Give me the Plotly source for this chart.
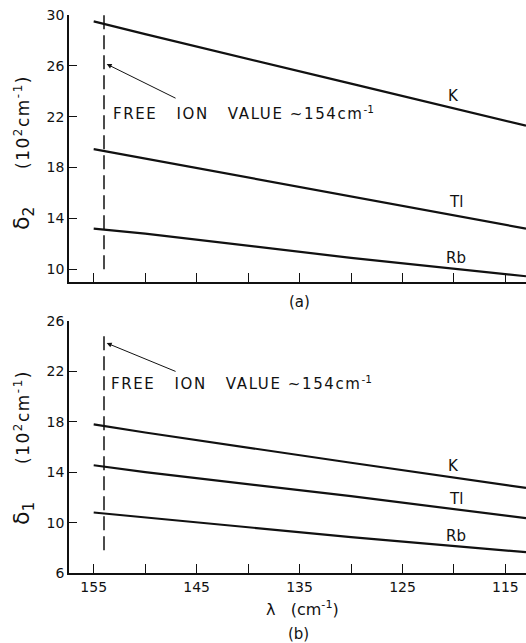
import plotly.graph_objects as go

# wavelength-like x values (lambda, cm^-1)
lam = [155, 150, 130, 113]

# panel (a): delta_2 (10^2 cm^-1)
d2_K = [29.5, 28.5, 24.6, 21.3]
d2_Tl = [19.45, 18.7, 15.7, 13.2]
d2_Rb = [13.2, 12.8, 10.9, 9.45]

# panel (b): delta_1 (10^2 cm^-1)
d1_K = [17.8, 17.15, 14.75, 12.75]
d1_Tl = [14.55, 14.0, 12.1, 10.35]
d1_Rb = [10.8, 10.4, 8.85, 7.65]

free_ion = 154
free_a_y = [10, 30]
free_b_y = [7.8, 25.0]

x_ticks = [155, 150, 145, 140, 135, 130, 125, 120, 115]
x_ticktext_b = ["155", "", "145", "", "135", "", "125", "", "115"]
y_ticks_a = [10, 14, 18, 22, 26, 30]
y_ticks_b = [6, 10, 14, 18, 22, 26]

FONT = "DejaVu Sans, Arial, sans-serif"
INK = "#111111"

fig = go.Figure()

line_style = dict(color=INK, width=2.2)
for ys in (d2_K, d2_Tl, d2_Rb):
    fig.add_trace(go.Scatter(x=lam, y=ys, mode="lines", line=line_style,
                             xaxis="x", yaxis="y", showlegend=False, hoverinfo="skip"))
for ys in (d1_K, d1_Tl, d1_Rb):
    fig.add_trace(go.Scatter(x=lam, y=ys, mode="lines", line=line_style,
                             xaxis="x2", yaxis="y2", showlegend=False, hoverinfo="skip"))

dash_style = dict(color=INK, width=1.5, dash="14px,6px")
fig.add_trace(go.Scatter(x=[free_ion, free_ion], y=free_a_y, mode="lines", line=dash_style,
                         xaxis="x", yaxis="y", showlegend=False, hoverinfo="skip"))
fig.add_trace(go.Scatter(x=[free_ion, free_ion], y=free_b_y, mode="lines", line=dash_style,
                         xaxis="x2", yaxis="y2", showlegend=False, hoverinfo="skip"))

xr = [157.4, 113.0]
common_x = dict(range=xr, tickvals=x_ticks, ticks="inside", ticklen=9, tickwidth=1.3,
                tickcolor=INK, showline=True, linecolor=INK, linewidth=1.6,
                showgrid=False, zeroline=False, tickfont=dict(family=FONT, size=14, color=INK))
common_y = dict(ticks="inside", ticklen=8, tickwidth=1.3, tickcolor=INK, showline=True,
                linecolor=INK, linewidth=1.6, showgrid=False, zeroline=False,
                tickfont=dict(family=FONT, size=14, color=INK))

fig.update_layout(
    width=526, height=643,
    margin=dict(l=69, r=0, t=15, b=70),
    paper_bgcolor="white", plot_bgcolor="white",
    xaxis=dict(domain=[0, 1], anchor="y", showticklabels=False, **common_x),
    yaxis=dict(domain=[0.5215, 1], anchor="x", range=[9.0, 30.0], tickvals=y_ticks_a, **common_y),
    xaxis2=dict(domain=[0, 1], anchor="y2", ticktext=x_ticktext_b, **common_x),
    yaxis2=dict(domain=[0, 0.4516], anchor="x2", range=[6.0, 26.0], tickvals=y_ticks_b, **common_y),
)

ann = []
lab_font = dict(family=FONT, size=15, color=INK)
# series labels
for txt, xx, yy, xa, ya in [("K", 120.0, 23.6, "x", "y"), ("Tl", 119.8, 15.3, "x", "y"),
                            ("Rb", 119.8, 10.9, "x", "y"),
                            ("K", 120.0, 14.5, "x2", "y2"), ("Tl", 119.8, 11.85, "x2", "y2"),
                            ("Rb", 119.8, 8.95, "x2", "y2")]:
    ann.append(dict(x=xx, y=yy, xref=xa, yref=ya, text=txt, showarrow=False, font=lab_font))

free_txt = ("<span style='letter-spacing:1.6px'>FREE&nbsp;&nbsp;&nbsp;ION&nbsp;&nbsp;&nbsp;VALUE&nbsp;~154cm</span>"
            "<sup>-1</sup>")
ann.append(dict(x=153.3, y=22.3, xref="x", yref="y", text=free_txt, showarrow=False,
                xanchor="left", font=dict(family=FONT, size=15, color=INK)))
ann.append(dict(x=153.5, y=21.1, xref="x2", yref="y2", text=free_txt, showarrow=False,
                xanchor="left", font=dict(family=FONT, size=15, color=INK)))
# arrows
ann.append(dict(x=153.74, y=26.14, ax=146.9, ay=23.4, xref="x", yref="y", axref="x", ayref="y",
                text="", showarrow=True, arrowhead=2, arrowsize=1, arrowwidth=1, arrowcolor=INK))
ann.append(dict(x=153.74, y=24.25, ax=146.9, ay=21.95, xref="x2", yref="y2", axref="x2", ayref="y2",
                text="", showarrow=True, arrowhead=2, arrowsize=1, arrowwidth=1, arrowcolor=INK))

# panel labels and axis titles (pixel positions, converted below)
ann.append(dict(x=299, y=302, xref="paper", yref="paper", text="(a)", showarrow=False,
                font=dict(family=FONT, size=15, color=INK)))
ann.append(dict(x=298, y=634, xref="paper", yref="paper", text="(b)", showarrow=False,
                font=dict(family=FONT, size=15, color=INK)))
ann.append(dict(x=302, y=608, xref="paper", yref="paper", text="λ&nbsp;&nbsp;&nbsp;(cm<sup>-1</sup>)",
                showarrow=False, font=dict(family=FONT, size=16, color=INK)))
ytitle = ("<span style='font-size:22px'>δ<sub>{}</sub></span>&nbsp;&nbsp;&nbsp;&nbsp;&nbsp;&nbsp;&nbsp;"
          "<span style='letter-spacing:1.5px'>(10<sup>2</sup>cm<sup>-1</sup>)</span>")
ann.append(dict(x=23, y=153, xref="paper", yref="paper", text=ytitle.format(2),
                textangle=-90, showarrow=False, font=dict(family=FONT, size=17, color=INK)))
ann.append(dict(x=23, y=448, xref="paper", yref="paper", text=ytitle.format(1),
                textangle=-90, showarrow=False, font=dict(family=FONT, size=17, color=INK)))

W, H = 526, 643
L, R, T, B = 69, 0, 15, 70
pw, ph = W - L - R, H - T - B
for a in ann:
    if a["xref"] == "paper":
        a["x"] = (a["x"] - L) / pw
        a["y"] = (H - B - a["y"]) / ph
        a["xanchor"] = "center"
        a["yanchor"] = "middle"

fig.update_layout(annotations=ann)
fig.write_html("out.html", config={"displayModeBar": False},
               post_script="document.body.style.margin='0';document.body.style.overflow='hidden';")
